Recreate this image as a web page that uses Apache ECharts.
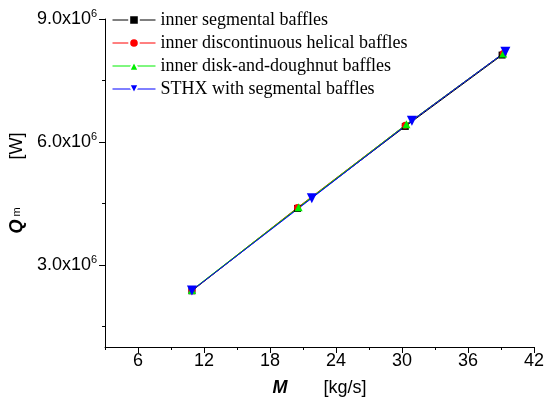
<!DOCTYPE html>
<html>
<head>
<meta charset="utf-8">
<title>Q vs M</title>
<script src="https://cdn.jsdelivr.net/npm/echarts@6/dist/echarts.min.js"></script>
<style>
    html, body { margin: 0; padding: 0; background: #fff; }
    #chart { width: 547px; height: 405px; }
</style>
</head>
<body>
<div id="chart"></div>
<script>
// data (M in kg/s, Q in W)
var seriesNames = ['inner segmental baffles', 'inner discontinuous helical baffles',
    'inner disk-and-doughnut baffles', 'STHX with segmental baffles'];
var innerSegmental = [[10.9, 2.37e6], [20.5, 4.38e6], [30.3, 6.38e6], [39.1, 8.12e6]];
var innerHelical = [[10.9, 2.38e6], [20.5, 4.40e6], [30.3, 6.41e6], [39.2, 8.16e6]];
var innerDisk = [[10.9, 2.39e6], [20.6, 4.41e6], [30.4, 6.43e6], [39.2, 8.16e6]];
var sthxSegmental = [[10.9, 2.38e6], [21.8, 4.63e6], [30.9, 6.52e6], [39.4, 8.20e6]];

var xMajorTicks = [6, 12, 18, 24, 30, 36, 42];
var yLabelValues = [3e6, 6e6, 9e6];
var yMinorTicks = [1.5e6, 4.5e6, 7.5e6];

var chart = echarts.init(document.getElementById('chart'));

function makeSeries(name, data, color, symbol, size, rotate) {
    return {
        name: name,
        type: 'line',
        data: data,
        symbol: symbol,
        symbolSize: size,
        symbolRotate: rotate || 0,
        lineStyle: {color: color, width: 1},
        itemStyle: {color: color},
        animation: false
    };
}

var option = {
    backgroundColor: '#fff',
    grid: {left: 105, right: 11, top: 19, bottom: 58, containLabel: false},
    legend: {
        orient: 'vertical',
        left: 107,
        top: 6,
        itemWidth: 43,
        itemHeight: 12,
        itemGap: 5,
        itemStyle: {borderColor: '#fff', borderWidth: 2},
        lineStyle: {width: 1},
        textStyle: {fontFamily: 'Liberation Serif', fontSize: 18, color: '#000'},
        data: seriesNames
    },
    xAxis: [{
        type: 'value',
        min: 3,
        max: 42,
        interval: 3,
        name: '{m|M}{g|}{u|[kg/s]}',
        nameLocation: 'middle',
        nameGap: 32,
        nameTextStyle: {
            rich: {
                m: {fontFamily: 'Liberation Sans', fontSize: 18, fontWeight: 'bold', fontStyle: 'italic', color: '#000'},
                g: {width: 36},
                u: {fontFamily: 'Liberation Sans', fontSize: 18, color: '#000'}
            }
        },
        axisLine: {show: true, lineStyle: {color: '#000', width: 1}},
        axisTick: {show: true, inside: false, length: 3, lineStyle: {color: '#000'}},
        axisLabel: {
            margin: 5,
            fontFamily: 'Liberation Sans',
            fontSize: 18,
            color: '#000',
            formatter: function (v) {
                return v % 6 === 0 ? String(v) : '';
            }
        },
        splitLine: {show: false}
    }, {
        type: 'value',
        min: 3,
        max: 42,
        position: 'bottom',
        axisLine: {show: false},
        axisTick: {show: true, length: 6, customValues: xMajorTicks, lineStyle: {color: '#000'}},
        axisLabel: {show: false},
        splitLine: {show: false}
    }],
    yAxis: [{
        type: 'value',
        min: 1e6,
        max: 9e6,
        name: '{q|Q}{s|m}{g|}{w|[W]}',
        nameLocation: 'middle',
        nameGap: 75,
        nameTextStyle: {
            rich: {
                q: {fontFamily: 'Liberation Sans', fontSize: 18, fontWeight: 'bold', fontStyle: 'italic', color: '#000'},
                s: {fontFamily: 'Liberation Sans', fontSize: 11, color: '#000', padding: [0, 0, 0, 3]},
                g: {width: 48},
                w: {fontFamily: 'Liberation Sans', fontSize: 18, color: '#000'}
            }
        },
        axisLine: {show: true, lineStyle: {color: '#000', width: 1}},
        axisTick: {show: true, length: 6, customValues: yLabelValues, lineStyle: {color: '#000'}},
        axisLabel: {
            margin: 8,
            customValues: yLabelValues,
            formatter: function (v) {
                return '{b|' + (v / 1e6).toFixed(1) + 'x10}{sup|6}';
            },
            rich: {
                b: {fontFamily: 'Liberation Sans', fontSize: 18, color: '#000'},
                sup: {fontFamily: 'Liberation Sans', fontSize: 11, color: '#000', padding: [0, 0, 11, 0]}
            }
        },
        splitLine: {show: false}
    }, {
        type: 'value',
        min: 1e6,
        max: 9e6,
        position: 'left',
        axisLine: {show: false},
        axisTick: {show: true, length: 3, customValues: yMinorTicks, lineStyle: {color: '#000'}},
        axisLabel: {show: false},
        splitLine: {show: false}
    }],
    series: [
        makeSeries(seriesNames[0], innerSegmental, '#000000', 'rect', 7),
        makeSeries(seriesNames[1], innerHelical, '#ff0000', 'circle', 7),
        makeSeries(seriesNames[2], innerDisk, '#00ee00', 'triangle', 8),
        makeSeries(seriesNames[3], sthxSegmental, '#0000ff', 'triangle', 10, 180)
    ]
};

chart.setOption(option);
</script>
</body>
</html>
